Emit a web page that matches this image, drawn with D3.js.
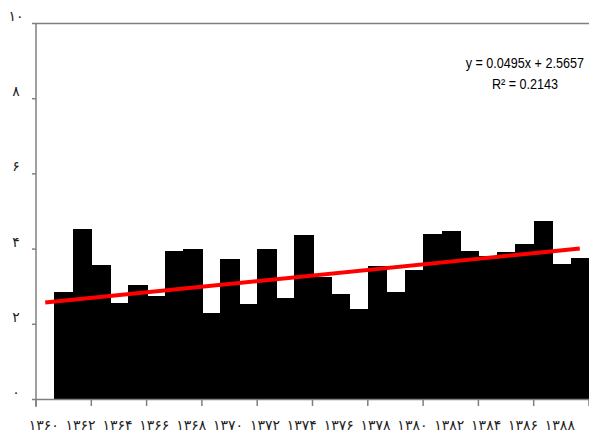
<!DOCTYPE html>
<html><head><meta charset="utf-8">
<script src="https://cdn.jsdelivr.net/npm/d3@7"></script>
<style>body{margin:0;background:#fff}svg{display:block}</style>
</head><body>
<svg id="c" width="589" height="432"></svg>
<script>
const years = d3.range(1360, 1389);
const values = [2.85,4.52,3.56,2.55,3.03,2.74,3.94,3.99,2.29,3.72,2.53,3.99,2.69,4.36,3.24,2.79,2.39,3.54,2.85,3.43,4.39,4.47,3.94,3.80,3.91,4.12,4.73,3.59,3.75];
const xLabels = ["۱۳۶۰","۱۳۶۲","۱۳۶۴","۱۳۶۶","۱۳۶۸","۱۳۷۰","۱۳۷۲","۱۳۷۴","۱۳۷۶","۱۳۷۸","۱۳۸۰","۱۳۸۲","۱۳۸۴","۱۳۸۶","۱۳۸۸"];
const yTicks = [0,2,4,6,8,10];
const yLabels = ["۰","۲","۴","۶","۸","۱۰"];
const trend = {slope:0.0495, intercept:2.5657};
const eqText = "y = 0.0495x + 2.5657";
const r2Text = "R² = 0.2143";

const svg = d3.select("#c");
const L = 36, R = 589, T = 23, B = 399;
const slots = d3.range(0, 30);
const x = d3.scaleBand().domain(slots).range([L, R]).padding(0);
const y = d3.scaleLinear().domain([0, 10]).range([B, T]);
const bw = x.bandwidth();

// bars (slot 0 empty)
svg.append("g").attr("shape-rendering", "crispEdges")
  .selectAll("rect").data(values).join("rect")
  .attr("x", (d,i) => Math.round(x(i+1)))
  .attr("y", d => Math.round(y(d)))
  .attr("width", (d,i) => Math.round(x(i+1) + bw) - Math.round(x(i+1)) + 1)
  .attr("height", d => B - Math.round(y(d)))
  .attr("fill", "#000");

// frame lines
const axisColor = "#7f7f7f";
svg.append("line").attr("x1", L).attr("x2", R).attr("y1", T+0.5).attr("y2", T+0.5).attr("stroke", axisColor).attr("stroke-width", 1.5);
svg.append("line").attr("x1", L).attr("x2", L).attr("y1", T).attr("y2", B+8).attr("stroke", axisColor).attr("stroke-width", 1.5);
svg.append("line").attr("x1", L).attr("x2", R).attr("y1", B+0.5).attr("y2", B+0.5).attr("stroke", axisColor).attr("stroke-width", 1.5);

// y ticks
const ya = d3.axisLeft(y).tickValues(yTicks).tickSize(4).tickFormat("");
const yg = svg.append("g").attr("transform", `translate(${L},0)`).call(ya);
yg.select(".domain").remove();
yg.selectAll("line").attr("stroke", axisColor).attr("stroke-width", 1.5);
svg.append("g").selectAll("text").data(yTicks).join("text")
  .attr("x", 16).attr("y", d => y(d) - 2)
  .attr("text-anchor", "middle")
  .attr("font-family", "DejaVu Sans")
  .attr("font-size", 14)
  .attr("fill", "#222")
  .text((d,i) => yLabels[i]);

// x ticks every 3 slots
const xt = d3.range(0, 11).map(k => L + k*3*bw);
svg.append("g").selectAll("line").data(xt).join("line")
  .attr("x1", d => d).attr("x2", d => d).attr("y1", B).attr("y2", B+7)
  .attr("stroke", axisColor).attr("stroke-width", 1.5);

// x labels
svg.append("g").selectAll("text").data(xLabels).join("text")
  .attr("x", (d,i) => L + (2*i + 0.42)*bw)
  .attr("y", 430)
  .attr("text-anchor", "middle")
  .attr("font-family", "DejaVu Sans")
  .attr("font-size", 14)
  .attr("fill", "#222")
  .text(d => d);

// trend line
const tx = d3.scaleLinear().domain([0, 29]).range([x(0)+bw/2, x(29)+bw/2]);
svg.append("line")
  .attr("x1", tx(0)).attr("y1", y(trend.intercept))
  .attr("x2", tx(29)).attr("y2", y(trend.intercept + trend.slope*29))
  .attr("stroke", "#ff0000").attr("stroke-width", 4);

// equation (horizontally condensed like Arial Narrow)
svg.append("g").attr("transform", "translate(584,68) scale(0.84,1)")
  .append("text").attr("text-anchor", "end")
  .attr("font-family", "Liberation Sans, Arial").attr("font-size", 15)
  .attr("fill", "#000").text(eqText);
svg.append("g").attr("transform", "translate(525,89) scale(0.84,1)")
  .append("text").attr("text-anchor", "middle")
  .attr("font-family", "Liberation Sans, Arial").attr("font-size", 15)
  .attr("fill", "#000").text(r2Text);
</script>
</body></html>
